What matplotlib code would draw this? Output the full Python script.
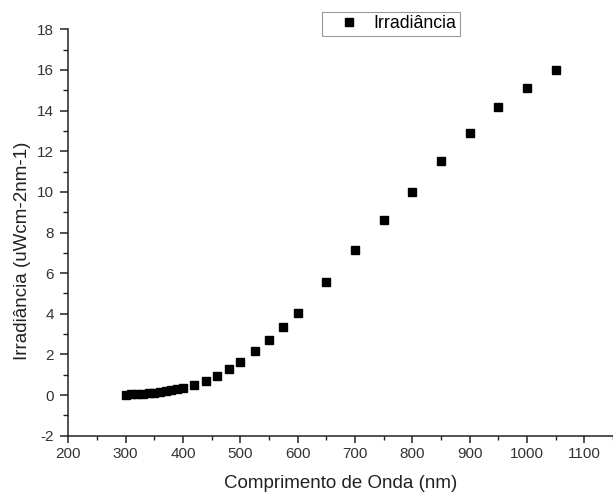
import numpy as np
import matplotlib.pyplot as plt
from matplotlib.ticker import MultipleLocator

plt.rcParams['font.family'] = ['Liberation Sans', 'DejaVu Sans']
plt.rcParams['axes.unicode_minus'] = False

# wavelength (nm) and irradiance values
wavelength = [300, 310, 320, 330, 340, 350, 360, 370, 380, 390, 400,
              420, 440, 460, 480, 500, 525, 550, 575, 600,
              650, 700, 750, 800, 850, 900, 950, 1000, 1050]
irradiance = [0.02, 0.03, 0.05, 0.07, 0.09, 0.12, 0.15, 0.19, 0.24, 0.29, 0.35,
              0.50, 0.69, 0.96, 1.29, 1.63, 2.17, 2.71, 3.37, 4.03,
              5.56, 7.15, 8.6, 10.0, 11.5, 12.9, 14.2, 15.1, 16.0]

fig = plt.figure(figsize=(6.13, 4.96), dpi=100)
ax = fig.add_axes([0.1114, 0.1216, 0.8886, 0.8193])

ax.plot(wavelength, irradiance, 's', color='black', markersize=5.5,
        label='Irradiância')

ax.set_xlim(200, 1150)
ax.set_ylim(-2, 18)
ax.xaxis.set_major_locator(MultipleLocator(100))
ax.xaxis.set_minor_locator(MultipleLocator(50))
ax.yaxis.set_major_locator(MultipleLocator(2))
ax.yaxis.set_minor_locator(MultipleLocator(1))

ax.spines['top'].set_visible(False)
ax.spines['right'].set_visible(False)
for s in ('left', 'bottom'):
    ax.spines[s].set_linewidth(1.1)
    ax.spines[s].set_color('#222222')

ax.tick_params(which='both', direction='out', colors='#222222',
               labelcolor='#333333', labelsize=11)
ax.tick_params(axis='x', which='major', length=4.8, width=1.1, pad=3.4)
ax.tick_params(axis='y', which='major', length=5.8, width=1.1, pad=4.5)
ax.tick_params(axis='x', which='minor', length=3.1, width=1.0)
ax.tick_params(axis='y', which='minor', length=3.6, width=1.0)

ax.set_xlabel('Comprimento de Onda (nm)', fontsize=13.5, color='#222222')
ax.set_ylabel('Irradiância (uWcm-2nm-1)', fontsize=13.5, color='#222222')
ax.xaxis.set_label_coords(0.5, -0.096)
ax.yaxis.set_label_coords(-0.069, 0.456)

leg = ax.legend(loc='upper left', bbox_to_anchor=(321.7 / 613, 1 - 11.7 / 496),
                bbox_transform=fig.transFigure, borderaxespad=0,
                fancybox=False, framealpha=1, edgecolor='#999999',
                fontsize=12.8, handletextpad=0.0, borderpad=0.2,
                handlelength=2.7, markerscale=0.95)
leg.get_frame().set_linewidth(0.8)

fig.savefig('out.png', dpi=100)
